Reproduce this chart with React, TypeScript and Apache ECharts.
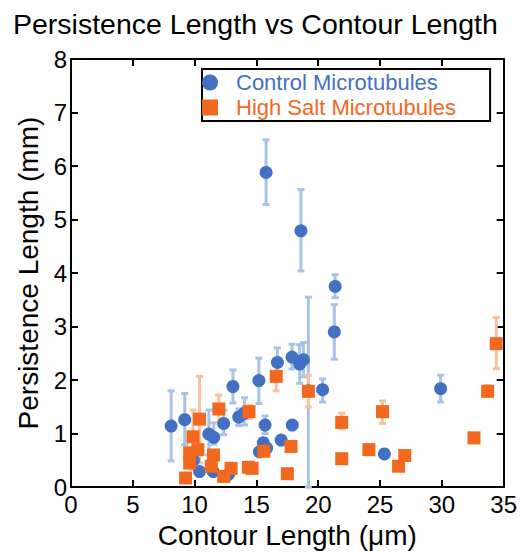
import React, { useEffect, useRef } from "react";
import * as echarts from "echarts";

const FONT = "'Liberation Sans', Arial, Helvetica, sans-serif";
const BLUE = "#4470c2";
const ORANGE = "#f2681f";
const BLUE_ERR = "#a9c2e8";
const ORANGE_ERR = "#f9c19d";

const xTicks = [0, 5, 10, 15, 20, 25, 30, 35];
const yTicks = [0, 1, 2, 3, 4, 5, 6, 7, 8];

// Control microtubules: contour length (µm), persistence length (mm), error bar low/high
const controlX = [8.1, 9.2, 9.9, 10.4, 11.15, 11.55, 11.5, 12.35, 12.75, 13.1, 13.57, 14.03, 15.2, 15.7, 15.56, 15.24, 15.83, 15.78, 16.7, 17.0, 17.88, 17.9, 18.5, 18.8, 18.6, 19.2, 20.35, 21.3, 21.37, 25.35, 29.9];
const controlY = [1.14, 1.26, 0.5, 0.29, 0.99, 0.93, 0.29, 1.19, 0.24, 1.88, 1.31, 1.38, 1.99, 1.16, 0.83, 0.66, 0.73, 5.88, 2.33, 0.88, 2.43, 1.16, 2.3, 2.38, 4.79, 1.8, 1.82, 2.9, 3.75, 0.62, 1.84];
const controlLo = [0.49, 0.79, null, null, 0.6, 0.8, null, 0.98, null, 1.57, 1.15, 1.16, 1.56, 1.0, null, null, null, 5.28, 2.06, null, 2.21, null, 1.94, 2.06, 4.04, 0, 1.59, 2.39, 3.54, null, 1.59];
const controlHi = [1.8, 1.75, null, null, 1.44, 1.2, null, 1.44, null, 2.19, 1.46, 1.67, 2.41, 1.33, null, null, null, 6.49, 2.6, null, 2.67, null, 2.66, 2.7, 5.56, 3.55, 2.02, 3.41, 3.97, null, 2.09];

// High salt microtubules
const saltX = [9.27, 9.6, 9.6, 9.87, 10.27, 10.4, 11.35, 11.53, 11.96, 12.35, 12.95, 14.4, 14.35, 14.65, 15.6, 16.6, 17.5, 17.8, 19.2, 21.9, 21.9, 24.1, 25.2, 26.5, 27.0, 32.6, 33.7, 34.4];
const saltY = [0.17, 0.64, 0.45, 0.94, 0.7, 1.27, 0.39, 0.6, 1.46, 0.2, 0.35, 1.41, 0.37, 0.35, 0.67, 2.07, 0.25, 0.76, 1.79, 1.21, 0.53, 0.7, 1.41, 0.39, 0.59, 0.92, 1.79, 2.68];
const saltLo = [null, null, null, 0.33, null, 0.45, null, null, 1.2, null, null, 1.28, null, null, null, 1.8, null, null, 1.5, 1.09, null, null, 1.19, null, null, null, 1.69, 2.21];
const saltHi = [null, null, null, 1.44, null, 2.07, null, null, 1.72, null, null, 1.53, null, null, null, 2.3, null, null, 2.09, 1.38, null, null, 1.61, null, null, null, 1.9, 3.17];

function errData(xs: number[], lo: (number | null)[], hi: (number | null)[]) {
  const out: number[][] = [];
  xs.forEach((x, i) => {
    if (lo[i] !== null && hi[i] !== null) out.push([x, lo[i] as number, hi[i] as number]);
  });
  return out;
}

function makeErrRender(color: string) {
  return (params: any, api: any) => {
    const x = api.value(0);
    const pLo = api.coord([x, api.value(1)]);
    const pHi = api.coord([x, api.value(2)]);
    const hw = 3.5;
    const style = { stroke: color, lineWidth: 3 };
    return {
      type: "group",
      children: [
        { type: "line", shape: { x1: pLo[0], y1: pLo[1], x2: pHi[0], y2: pHi[1] }, style },
        { type: "line", shape: { x1: pHi[0] - hw, y1: pHi[1], x2: pHi[0] + hw, y2: pHi[1] }, style },
        { type: "line", shape: { x1: pLo[0] - hw, y1: pLo[1], x2: pLo[0] + hw, y2: pLo[1] }, style },
      ],
    };
  };
}

export default function App() {
  const ref = useRef<HTMLDivElement>(null);
  useEffect(() => {
    if (!ref.current) return;
    const chart = echarts.init(ref.current, null, { renderer: "svg" });
    const axisLine = { show: true, onZero: false, lineStyle: { color: "#000", width: 2 } };
    const axisTick = { show: true, inside: true, length: 7, lineStyle: { color: "#000", width: 2 } };
    const label = { fontSize: 24, color: "#000", fontFamily: FONT };
    chart.setOption({
      animation: false,
      backgroundColor: "#fff",
      title: {
        text: "Persistence Length vs Contour Length",
        left: 8,
        top: 4,
        textStyle: { fontSize: 28.5, fontWeight: "normal", color: "#000", fontFamily: FONT },
      },
      legend: {
        orient: "vertical",
        left: 202,
        top: 69,
        itemWidth: 42,
        itemHeight: 16,
        itemGap: 0,
        symbolKeepAspect: true,
        padding: [1, 34, 1, 0],
        borderColor: "#000",
        borderWidth: 2,
        textStyle: { fontSize: 22, lineHeight: 25, fontFamily: FONT },
        data: [
          { name: "Control Microtubules", icon: "circle", textStyle: { color: BLUE } },
          { name: "High Salt Microtubules", icon: "path://M0,0H16V16H0Z", textStyle: { color: ORANGE } },
        ],
      },
      grid: { left: 71, right: 15, top: 59, bottom: 63 },
      xAxis: [
        {
          type: "value",
          min: xTicks[0],
          max: xTicks[xTicks.length - 1],
          interval: 5,
          position: "bottom",
          axisLine,
          axisTick,
          splitLine: { show: false },
          axisLabel: { ...label, margin: 5 },
          name: "Contour Length (\u03bcm)",
          nameLocation: "middle",
          nameGap: 32,
          nameTextStyle: { fontSize: 28, color: "#000", fontFamily: FONT },
        },
        {
          type: "value",
          min: xTicks[0],
          max: xTicks[xTicks.length - 1],
          interval: 5,
          position: "top",
          axisLine,
          axisTick,
          splitLine: { show: false },
          axisLabel: { show: false },
        },
      ],
      yAxis: [
        {
          type: "value",
          min: yTicks[0],
          max: yTicks[yTicks.length - 1],
          interval: 1,
          position: "left",
          axisLine,
          axisTick,
          splitLine: { show: false },
          axisLabel: { ...label, margin: 4 },
          name: "Persistence Length (mm)",
          nameLocation: "middle",
          nameGap: 26,
          nameTextStyle: { fontSize: 28, color: "#000", fontFamily: FONT },
        },
        {
          type: "value",
          min: yTicks[0],
          max: yTicks[yTicks.length - 1],
          interval: 1,
          position: "right",
          axisLine,
          axisTick,
          splitLine: { show: false },
          axisLabel: { show: false },
        },
      ],
      series: [
        {
          name: "Control error",
          type: "custom",
          xAxisIndex: 0,
          yAxisIndex: 0,
          z: 1,
          renderItem: makeErrRender(BLUE_ERR),
          encode: { x: 0, y: [1, 2] },
          data: errData(controlX, controlLo, controlHi),
        },
        {
          name: "High Salt error",
          type: "custom",
          xAxisIndex: 0,
          yAxisIndex: 0,
          z: 2,
          renderItem: makeErrRender(ORANGE_ERR),
          encode: { x: 0, y: [1, 2] },
          data: errData(saltX, saltLo, saltHi),
        },
        {
          name: "Control Microtubules",
          type: "scatter",
          symbol: "circle",
          symbolSize: 13,
          z: 3,
          itemStyle: { color: BLUE, opacity: 1 },
          data: controlX.map((x, i) => [x, controlY[i]]),
        },
        {
          name: "High Salt Microtubules",
          type: "scatter",
          symbol: "rect",
          symbolSize: 13,
          z: 4,
          itemStyle: { color: ORANGE, opacity: 1 },
          data: saltX.map((x, i) => [x, saltY[i]]),
        },
      ],
    });
    return () => chart.dispose();
  }, []);
  return (
    <div
      ref={ref}
      style={{ position: "fixed", left: 0, top: 0, width: 520, height: 554, background: "#fff" }}
    />
  );
}
